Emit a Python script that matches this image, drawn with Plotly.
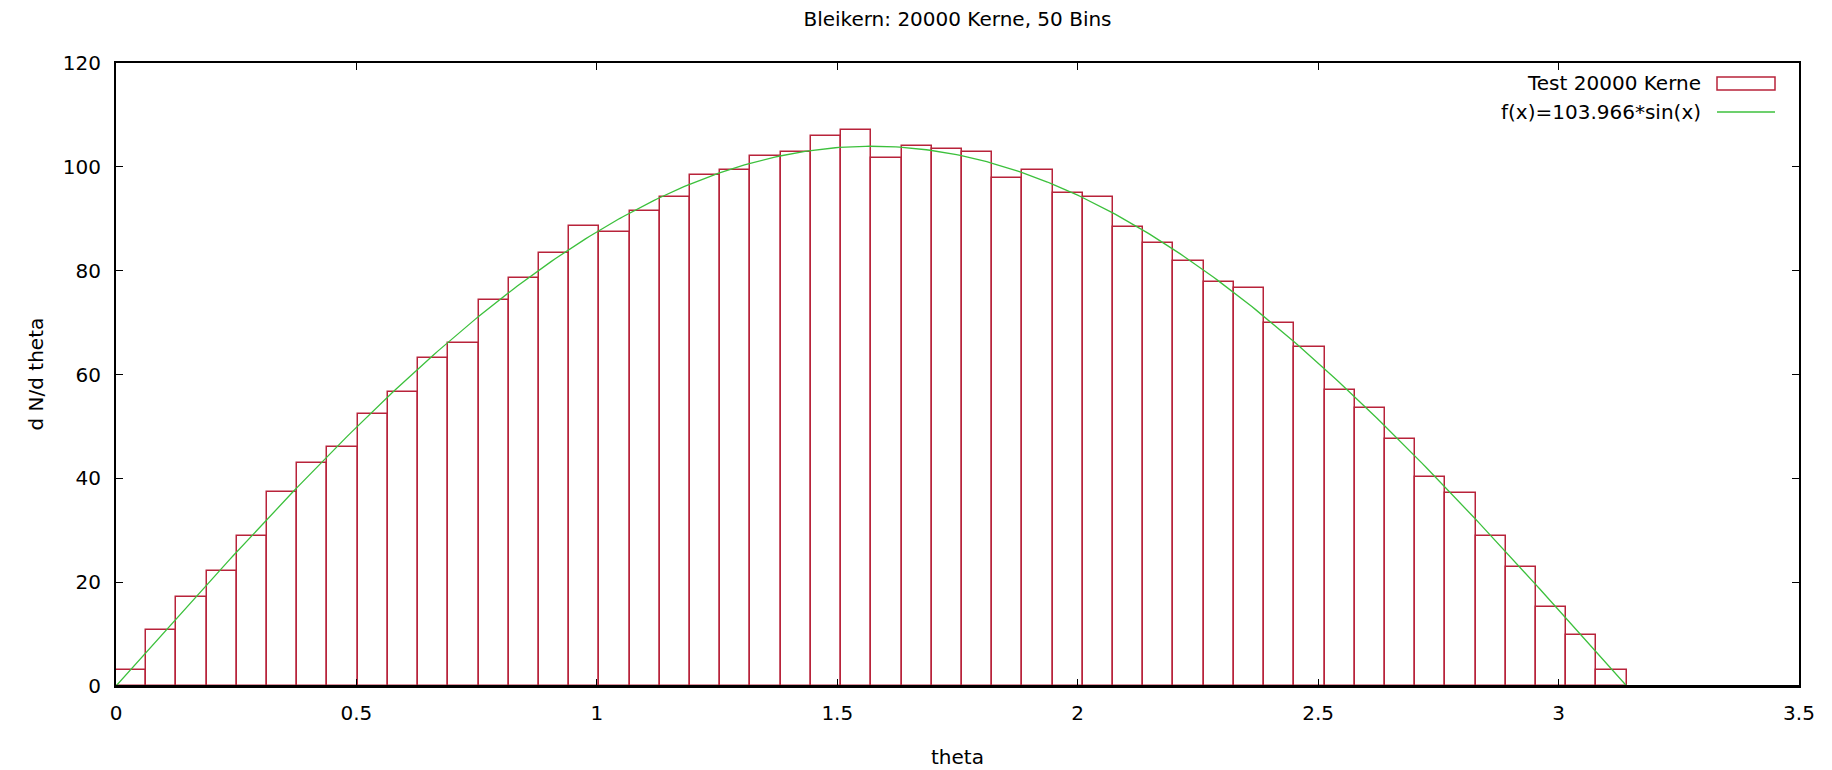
import numpy as np
import plotly.graph_objects as go

# ---- data ----
N_BINS = 50
THETA_MIN = 0.0
THETA_MAX = np.pi
counts = [3.0, 10.7, 17.2, 22.2, 28.9, 37.4, 42.9, 46.0, 52.4, 56.7,
          63.2, 66.1, 74.3, 78.5, 83.5, 88.6, 87.4, 91.4, 94.2, 98.4,
          99.3, 102.1, 102.8, 106.0, 107.1, 101.7, 104.1, 103.5, 102.8, 97.9,
          99.3, 95.0, 94.2, 88.5, 85.3, 81.8, 77.8, 76.7, 70.0, 65.3,
          57.0, 53.6, 47.5, 40.3, 37.1, 28.8, 22.9, 15.3, 9.9, 3.1]
FIT_AMPLITUDE = 103.966
x_ticks = [0, 0.5, 1, 1.5, 2, 2.5, 3, 3.5]
x_tick_labels = ["0", "0.5", "1", "1.5", "2", "2.5", "3", "3.5"]
y_ticks = [0, 20, 40, 60, 80, 100, 120]
y_tick_labels = ["0", "20", "40", "60", "80", "100", "120"]
title_text = "Bleikern: 20000 Kerne, 50 Bins"
x_title = "theta"
y_title = "d N/d theta"
hist_label = "Test 20000 Kerne"
fit_label = "f(x)=103.966*sin(x)"

# ---- derived ----
edges = np.linspace(THETA_MIN, THETA_MAX, N_BINS + 1)
centers = 0.5 * (edges[:-1] + edges[1:])
bin_width = edges[1] - edges[0]
fit_x = np.linspace(THETA_MIN, THETA_MAX, 400)
fit_y = FIT_AMPLITUDE * np.sin(fit_x)

RED = "#b8233a"
GREEN = "#3cc03c"
FONT = "DejaVu Sans"
FS = 20

W, H = 1832, 770
L, R, T, B = 116, 33, 63, 84
pw, ph = W - L - R, H - T - B

def px(xp):
    return (xp - L) / pw

def py(yp):
    return (H - B - yp) / ph

fig = go.Figure()
fig.add_trace(go.Bar(
    x=centers, y=counts, width=bin_width,
    marker=dict(color="rgba(255,255,255,0)", line=dict(color=RED, width=1.5)),
    name=hist_label, showlegend=False, cliponaxis=True,
))
fig.add_trace(go.Scatter(
    x=fit_x, y=fit_y, mode="lines",
    line=dict(color=GREEN, width=1.3),
    name=fit_label, showlegend=False,
))

axis_common = dict(
    showgrid=False, zeroline=False, showline=True, linecolor="black", linewidth=2.2,
    mirror="allticks", ticks="inside", ticklen=7, tickcolor="black", tickwidth=1.3,
    tickfont=dict(family=FONT, size=FS, color="black"), automargin=False,
)
fig.update_xaxes(range=[0, 3.5], tickvals=x_ticks, ticktext=x_tick_labels,
                 ticklabelstandoff=8, **axis_common)
fig.update_yaxes(range=[0, 120], tickvals=y_ticks, ticktext=y_tick_labels,
                 ticklabelstandoff=9, **axis_common)

tf = dict(family=FONT, size=FS, color="black")
ann = [
    # axis titles
    dict(text=x_title, xref="paper", yref="paper", x=0.5, y=py(757),
         xanchor="center", yanchor="middle", showarrow=False, font=tf),
    dict(text=y_title, xref="paper", yref="paper", x=px(35), y=0.5, textangle=-90,
         xanchor="center", yanchor="middle", showarrow=False, font=tf),
    # custom legend (text right-aligned, sample on the right as in gnuplot)
    dict(text=hist_label, xref="paper", yref="paper", x=px(1703), y=py(83),
         xanchor="right", yanchor="middle", showarrow=False, font=tf),
    dict(text=fit_label, xref="paper", yref="paper", x=px(1703), y=py(112),
         xanchor="right", yanchor="middle", showarrow=False, font=tf),
]
shapes = [
    # black baseline drawn over the bar bottoms (as in gnuplot, the border covers them)
    dict(type="line", xref="paper", yref="y", x0=0, x1=1, y0=0, y1=0,
         line=dict(color="black", width=2.2), layer="above"),
    dict(type="rect", xref="paper", yref="paper", x0=px(1717), x1=px(1775),
         y0=py(90), y1=py(77), line=dict(color=RED, width=1.5), fillcolor="rgba(0,0,0,0)"),
    dict(type="line", xref="paper", yref="paper", x0=px(1717), x1=px(1775),
         y0=py(112), y1=py(112), line=dict(color=GREEN, width=1.5)),
]

fig.update_layout(
    width=W, height=H,
    margin=dict(l=L, r=R, t=T, b=B, autoexpand=False),
    paper_bgcolor="white", plot_bgcolor="white",
    title=dict(text=title_text, x=0.5, xref="paper", xanchor="center", y=1 - 19 / H,
               yanchor="middle", yref="container", font=tf),
    annotations=ann, shapes=shapes,
    bargap=0, showlegend=False,
)

fig.write_html("out.html")
